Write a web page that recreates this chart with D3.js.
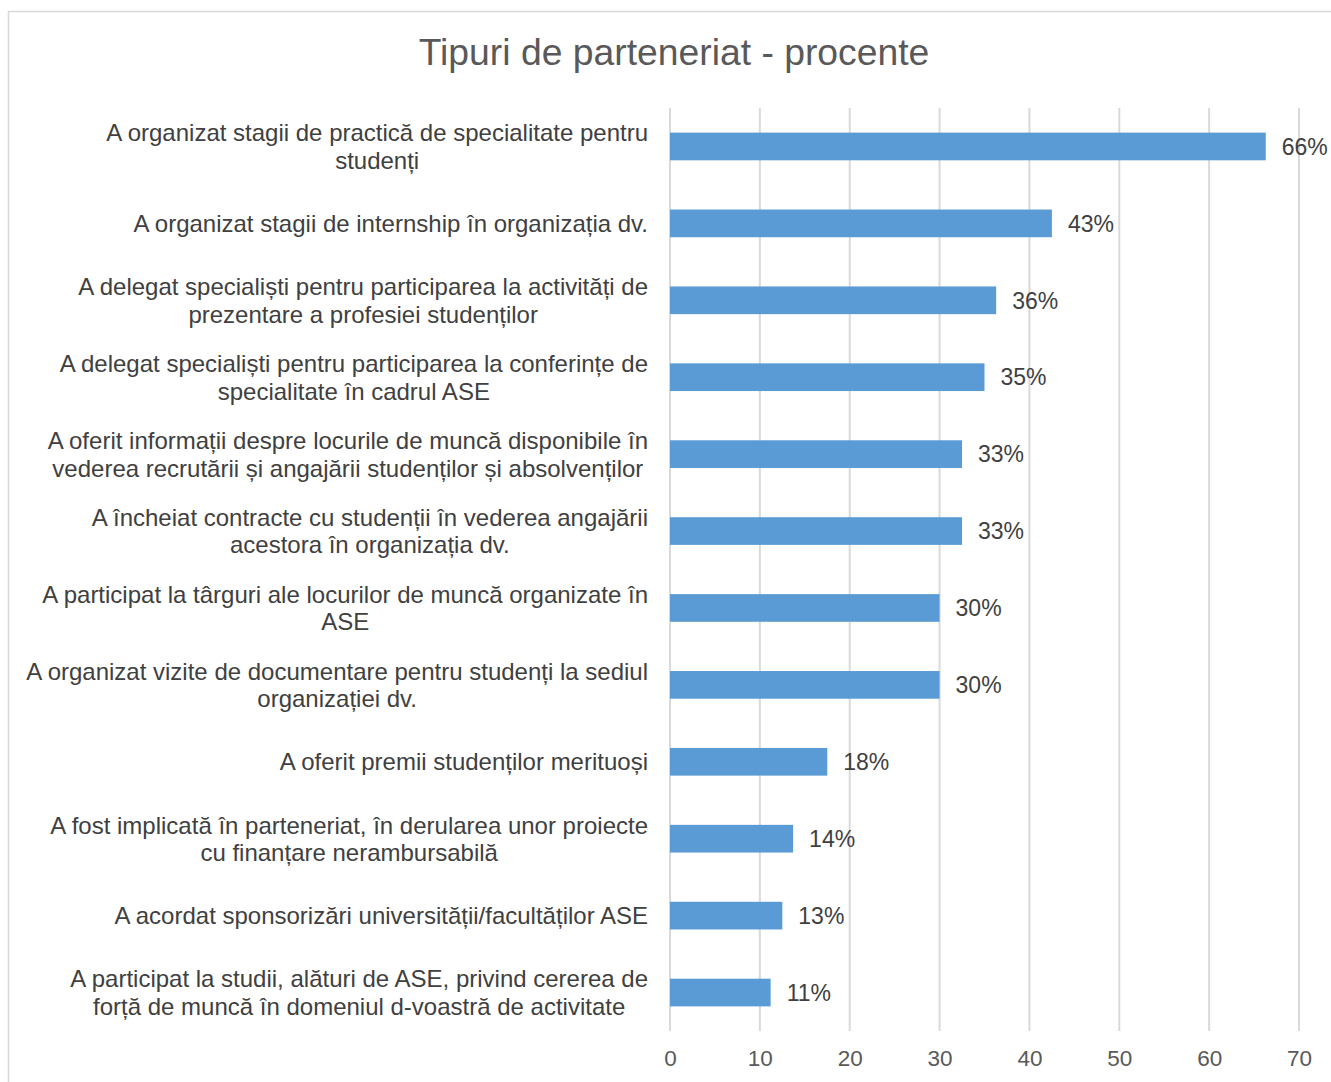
<!DOCTYPE html>
<html>
<head>
<meta charset="utf-8">
<script src="https://cdn.jsdelivr.net/npm/d3@7"></script>
<style>
  html, body { margin: 0; padding: 0; background: #fff; }
  svg { display: block; font-family: "Liberation Sans", Arial, sans-serif; }
</style>
</head>
<body>
<svg id="chart" width="1331" height="1082"></svg>
<script>
const title = "Tipuri de parteneriat - procente";
const categories = [
  ["A organizat stagii de practică de specialitate pentru", "studenți"],
  ["A organizat stagii de internship în organizația dv."],
  ["A delegat specialiști pentru participarea la activități de", "prezentare a profesiei studenților"],
  ["A delegat specialiști pentru participarea la conferințe de", "specialitate în cadrul ASE"],
  ["A oferit informații despre locurile de muncă disponibile în", "vederea recrutării și angajării studenților și absolvenților"],
  ["A încheiat contracte cu studenții în vederea angajării", "acestora în organizația dv."],
  ["A participat la târguri ale locurilor de muncă organizate în", "ASE"],
  ["A organizat vizite de documentare pentru studenți la sediul", "organizației dv."],
  ["A oferit premii studenților merituoși"],
  ["A fost implicată în parteneriat, în derularea unor proiecte", "cu finanțare nerambursabilă"],
  ["A acordat sponsorizări universității/facultăților ASE"],
  ["A participat la studii, alături de ASE, privind cererea de", "forță de muncă în domeniul d-voastră de activitate"]
];
const values = [66.3, 42.5, 36.3, 35.0, 32.5, 32.5, 30.0, 30.0, 17.5, 13.7, 12.5, 11.2];
const valueLabels = ["66%", "43%", "36%", "35%", "33%", "33%", "30%", "30%", "18%", "14%", "13%", "11%"];
const xTicks = [0, 10, 20, 30, 40, 50, 60, 70];

const svg = d3.select("#chart");

// outer border (chart area frame)
svg.append("rect")
  .attr("x", 8.5).attr("y", 11.5)
  .attr("width", 1400).attr("height", 1200)
  .attr("fill", "none").attr("stroke", "#d9d9d9").attr("stroke-width", 1.5);

// title
svg.append("text")
  .attr("x", 674).attr("y", 65)
  .attr("text-anchor", "middle")
  .attr("font-size", 37.3)
  .attr("fill", "#595959")
  .text(title);

const x = d3.scaleLinear().domain([0, 70]).range([670, 1299]);
const y = d3.scaleBand()
  .domain(d3.range(categories.length))
  .range([108, 1031])
  .paddingInner(0.64)
  .paddingOuter(0.32);

// gridlines
svg.append("g").selectAll("line")
  .data(xTicks)
  .join("line")
  .attr("x1", d => x(d)).attr("x2", d => x(d))
  .attr("y1", 108).attr("y2", 1031)
  .attr("stroke", "#d9d9d9").attr("stroke-width", 2);

// x axis tick labels
const xAxis = d3.axisBottom(x).tickValues(xTicks).tickSize(0).tickPadding(0);
const gx = svg.append("g").attr("transform", "translate(0,1050)").call(xAxis);
gx.select(".domain").remove();
gx.selectAll("text")
  .attr("font-size", 22.5)
  .attr("font-family", "Liberation Sans, Arial, sans-serif")
  .attr("fill", "#595959")
  .attr("dy", "0.7em");

// bars
svg.append("g").selectAll("rect")
  .data(values)
  .join("rect")
  .attr("x", x(0))
  .attr("y", (d, i) => y(i))
  .attr("width", d => x(d) - x(0))
  .attr("height", y.bandwidth())
  .attr("fill", "#5b9bd5");

// value labels
svg.append("g").selectAll("text")
  .data(values)
  .join("text")
  .attr("x", d => x(d) + 16)
  .attr("y", (d, i) => y(i) + y.bandwidth() / 2)
  .attr("dy", "0.36em")
  .attr("font-size", 23)
  .attr("fill", "#404040")
  .text((d, i) => valueLabels[i]);

// category labels
const labelRight = 648;
const lineH = 27.5;
const lg = svg.append("g");
categories.forEach((lines, i) => {
  const cy = y(i) + y.bandwidth() / 2;
  const t = lg.append("text")
    .attr("font-size", 24)
    .attr("fill", "#404040")
    .attr("text-anchor", "middle");
  const spans = lines.map((ln, k) => t.append("tspan")
    .attr("x", 0)
    .attr("y", cy + (k - (lines.length - 1) / 2) * lineH)
    .attr("dy", "0.36em")
    .text(ln));
  let maxW = 0;
  spans.forEach(s => { maxW = Math.max(maxW, s.node().getComputedTextLength()); });
  spans.forEach(s => s.attr("x", labelRight - maxW / 2));
});
</script>
</body>
</html>
